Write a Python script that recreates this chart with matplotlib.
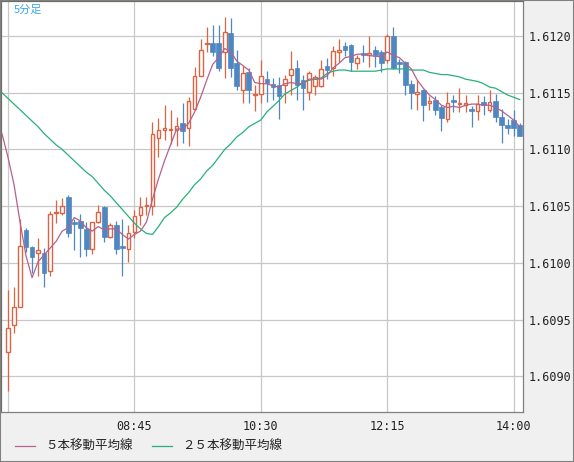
import matplotlib
matplotlib.use('Agg')
import matplotlib.pyplot as plt
from matplotlib.lines import Line2D
from matplotlib.patches import Rectangle
import numpy as np

plt.rcParams['font.family'] = ['DejaVu Sans', 'Noto Sans CJK JP']

# 5 minute candles, 07:00 .. 14:05
opens = [1.60921, 1.60945, 1.60961, 1.61029, 1.61014, 1.61009, 1.61009, 1.60993, 1.61044, 1.61044,
         1.61058, 1.61036, 1.61037, 1.61030, 1.61012, 1.61036, 1.61049, 1.61023, 1.61033, 1.61015,
         1.61012, 1.61027, 1.61042, 1.61050, 1.61050, 1.61110, 1.61117, 1.61117, 1.61117, 1.61123,
         1.61119, 1.61136, 1.61165, 1.61193, 1.61194, 1.61194, 1.61186, 1.61203, 1.61176, 1.61152,
         1.61168, 1.61148, 1.61149, 1.61162, 1.61158, 1.61157, 1.61157, 1.61166, 1.61172, 1.61161,
         1.61151, 1.61156, 1.61156, 1.61174, 1.61172, 1.61186, 1.61191, 1.61192, 1.61176, 1.61185,
         1.61183, 1.61188, 1.61186, 1.61179, 1.61200, 1.61177, 1.61177, 1.61158, 1.61149, 1.61152,
         1.61141, 1.61144, 1.61137, 1.61127, 1.61144, 1.61140, 1.61139, 1.61136, 1.61134, 1.61142,
         1.61135, 1.61143, 1.61129, 1.61122, 1.61126, 1.61122]
highs = [1.60976, 1.60979, 1.61039, 1.61031, 1.61015, 1.61022, 1.61013, 1.61046, 1.61055, 1.61057,
         1.61060, 1.61039, 1.61043, 1.61036, 1.61036, 1.61051, 1.61050, 1.61035, 1.61037, 1.61039,
         1.61033, 1.61047, 1.61058, 1.61058, 1.61124, 1.61128, 1.61139, 1.61135, 1.61129, 1.61141,
         1.61146, 1.61173, 1.61197, 1.61208, 1.61210, 1.61210, 1.61217, 1.61216, 1.61188, 1.61174,
         1.61172, 1.61157, 1.61179, 1.61169, 1.61163, 1.61164, 1.61166, 1.61187, 1.61179, 1.61166,
         1.61169, 1.61166, 1.61179, 1.61181, 1.61191, 1.61197, 1.61195, 1.61193, 1.61183, 1.61192,
         1.61200, 1.61191, 1.61188, 1.61202, 1.61208, 1.61180, 1.61178, 1.61161, 1.61161, 1.61153,
         1.61147, 1.61147, 1.61139, 1.61151, 1.61148, 1.61154, 1.61148, 1.61138, 1.61148, 1.61147,
         1.61152, 1.61149, 1.61136, 1.61127, 1.61135, 1.61123]
lows = [1.60887, 1.60938, 1.60961, 1.61010, 1.60991, 1.60988, 1.60979, 1.60988, 1.61035, 1.61042,
        1.61023, 1.61011, 1.61005, 1.61006, 1.61008, 1.61035, 1.61018, 1.61022, 1.61008, 1.60988,
        1.61001, 1.61022, 1.61033, 1.61042, 1.61042, 1.61093, 1.61108, 1.61105, 1.61103, 1.61106,
        1.61103, 1.61135, 1.61165, 1.61186, 1.61182, 1.61169, 1.61163, 1.61164, 1.61152, 1.61141,
        1.61141, 1.61134, 1.61141, 1.61142, 1.61144, 1.61127, 1.61141, 1.61148, 1.61144, 1.61135,
        1.61144, 1.61148, 1.61155, 1.61162, 1.61165, 1.61177, 1.61182, 1.61169, 1.61171, 1.61177,
        1.61173, 1.61173, 1.61168, 1.61176, 1.61171, 1.61167, 1.61148, 1.61136, 1.61135, 1.61125,
        1.61135, 1.61130, 1.61116, 1.61124, 1.61133, 1.61133, 1.61133, 1.61120, 1.61126, 1.61130,
        1.61133, 1.61124, 1.61106, 1.61114, 1.61112, 1.61112]
closes = [1.60943, 1.60961, 1.61015, 1.61014, 1.61005, 1.61011, 1.60991, 1.61043, 1.61045, 1.61050,
          1.61026, 1.61034, 1.61031, 1.61012, 1.61036, 1.61045, 1.61023, 1.61033, 1.61012, 1.61013,
          1.61026, 1.61041, 1.61049, 1.61051, 1.61114, 1.61117, 1.61119, 1.61118, 1.61121, 1.61116,
          1.61143, 1.61165, 1.61188, 1.61194, 1.61186, 1.61172, 1.61204, 1.61172, 1.61156, 1.61167,
          1.61152, 1.61149, 1.61165, 1.61159, 1.61155, 1.61147, 1.61162, 1.61171, 1.61157, 1.61154,
          1.61167, 1.61164, 1.61171, 1.61170, 1.61187, 1.61188, 1.61188, 1.61177, 1.61181, 1.61183,
          1.61185, 1.61183, 1.61176, 1.61200, 1.61172, 1.61175, 1.61157, 1.61150, 1.61151, 1.61139,
          1.61143, 1.61135, 1.61128, 1.61141, 1.61142, 1.61141, 1.61141, 1.61134, 1.61140, 1.61139,
          1.61142, 1.61129, 1.61122, 1.61119, 1.61119, 1.61112]

# moving averages, starting one bar before the first visible candle (06:55)
ma5 = [1.61114, 1.61093, 1.61069, 1.61036, 1.61006, 1.60987, 1.61001, 1.61007, 1.61013, 1.61019,
       1.61028, 1.61031, 1.61040, 1.61037, 1.61031, 1.61028, 1.61032, 1.61029, 1.61030, 1.61030,
       1.61025, 1.61021, 1.61025, 1.61028, 1.61036, 1.61056, 1.61074, 1.61090, 1.61104, 1.61118,
       1.61118, 1.61123, 1.61133, 1.61146, 1.61161, 1.61175, 1.61181, 1.61189, 1.61186, 1.61178,
       1.61174, 1.61170, 1.61159, 1.61158, 1.61158, 1.61156, 1.61155, 1.61158, 1.61159, 1.61158,
       1.61158, 1.61162, 1.61162, 1.61162, 1.61165, 1.61172, 1.61176, 1.61181, 1.61182, 1.61184,
       1.61184, 1.61183, 1.61182, 1.61182, 1.61186, 1.61183, 1.61181, 1.61176, 1.61171, 1.61161,
       1.61154, 1.61148, 1.61144, 1.61139, 1.61137, 1.61138, 1.61137, 1.61139, 1.61140, 1.61140,
       1.61139, 1.61139, 1.61137, 1.61134, 1.61130, 1.61126, 1.61120]
ma25 = [1.61150, 1.61145, 1.61140, 1.61135, 1.61130, 1.61125, 1.61120, 1.61114, 1.61109, 1.61104,
        1.61100, 1.61095, 1.61090, 1.61085, 1.61080, 1.61076, 1.61070, 1.61064, 1.61059, 1.61053,
        1.61047, 1.61041, 1.61035, 1.61030, 1.61026, 1.61025, 1.61032, 1.61040, 1.61044, 1.61049,
        1.61056, 1.61062, 1.61069, 1.61074, 1.61081, 1.61086, 1.61093, 1.61100, 1.61105, 1.61111,
        1.61115, 1.61120, 1.61123, 1.61126, 1.61133, 1.61138, 1.61143, 1.61149, 1.61152, 1.61155,
        1.61159, 1.61161, 1.61162, 1.61163, 1.61167, 1.61169, 1.61170, 1.61170, 1.61169, 1.61169,
        1.61169, 1.61169, 1.61169, 1.61170, 1.61171, 1.61171, 1.61171, 1.61171, 1.61170, 1.61170,
        1.61170, 1.61168, 1.61167, 1.61166, 1.61166, 1.61165, 1.61164, 1.61162, 1.61161, 1.61160,
        1.61158, 1.61155, 1.61154, 1.61151, 1.61148, 1.61146, 1.61144]

price_ticks = [1.6090, 1.6095, 1.6100, 1.6105, 1.6110, 1.6115, 1.6120]
time_ticks = ['07:00', '08:45', '10:30', '12:15', '14:00']
times = ['%02d:%02d' % (7 + (5 * k) // 60, (5 * k) % 60) for k in range(len(opens))]

up_col = '#dc6443'
down_col = '#4f87c2'
ma5_col = '#b5618c'
ma25_col = '#27b07a'

fig = plt.figure(figsize=(5.74, 4.62), dpi=100, facecolor='#f0f0f0')
ax = fig.add_axes([1 / 574, 50 / 462, 522 / 574, 411 / 462], facecolor='white')

o = np.array(opens)
h = np.array(highs)
l = np.array(lows)
c = np.array(closes)
x = np.arange(len(o))
up = c >= o

ax.vlines(x[up], l[up], h[up], color=up_col, lw=0.9, zorder=2)
ax.vlines(x[~up], l[~up], h[~up], color=down_col, lw=0.9, zorder=2)
ax.bar(x[up], np.abs(c - o)[up], bottom=np.minimum(o, c)[up], width=0.62,
       facecolor='white', edgecolor=up_col, lw=1.0, zorder=3)
ax.bar(x[~up], np.abs(c - o)[~up], bottom=np.minimum(o, c)[~up], width=0.78,
       facecolor=down_col, edgecolor=down_col, lw=0.5, zorder=3)

xm = np.arange(-1, len(ma5) - 1)
ax.plot(xm, ma25, color=ma25_col, lw=0.9, zorder=4)
ax.plot(xm, ma5, color=ma5_col, lw=0.9, zorder=5)

ax.set_xlim(-1.163, 85.55)
ax.set_ylim(1.608685, 1.612309)

ax.set_yticks(price_ticks)
ax.set_yticklabels(['%.4f' % p for p in price_ticks], fontfamily='DejaVu Sans Mono', fontsize=8.5, color='#222222')
ax.yaxis.tick_right()
tpos = [times.index(t) for t in time_ticks]
ax.set_xticks(tpos)
ax.set_xticklabels([''] + time_ticks[1:], fontfamily='DejaVu Sans Mono', fontsize=8.5, color='#222222')
ax.tick_params(axis='both', length=0)
ax.tick_params(axis='y', pad=4)
ax.tick_params(axis='x', pad=6)
ax.grid(True, color='#c8c8c8', lw=0.9, zorder=0)
ax.set_axisbelow(True)

for s in ['right', 'bottom']:
    ax.spines[s].set_color('#808080')
    ax.spines[s].set_linewidth(0.9)
for s in ['left', 'top']:
    ax.spines[s].set_color('#6e6e66')
    ax.spines[s].set_linewidth(1.6)

fig.patches.append(Rectangle((0, 0), 1, 1, transform=fig.transFigure, fill=False,
                             edgecolor='#808080', lw=1.5))

fig.text(14 / 574, 1 - 10 / 462, '5分足', color='#3aa8e6', fontsize=8, va='center',
         family=['Noto Sans CJK JP', 'DejaVu Sans'])

ly = 1 - 446 / 462
fig.add_artist(Line2D([15 / 574, 35 / 574], [ly, ly], color=ma5_col, lw=0.9))
fig.text(45 / 574, ly, '５本移動平均線', va='center', fontsize=9, color='#222222',
         family=['Noto Sans CJK JP', 'DejaVu Sans'])
fig.add_artist(Line2D([152 / 574, 172 / 574], [ly, ly], color=ma25_col, lw=0.9))
fig.text(182 / 574, ly, '２５本移動平均線', va='center', fontsize=9, color='#222222',
         family=['Noto Sans CJK JP', 'DejaVu Sans'])

fig.savefig('out.png', dpi=100, facecolor=fig.get_facecolor())
